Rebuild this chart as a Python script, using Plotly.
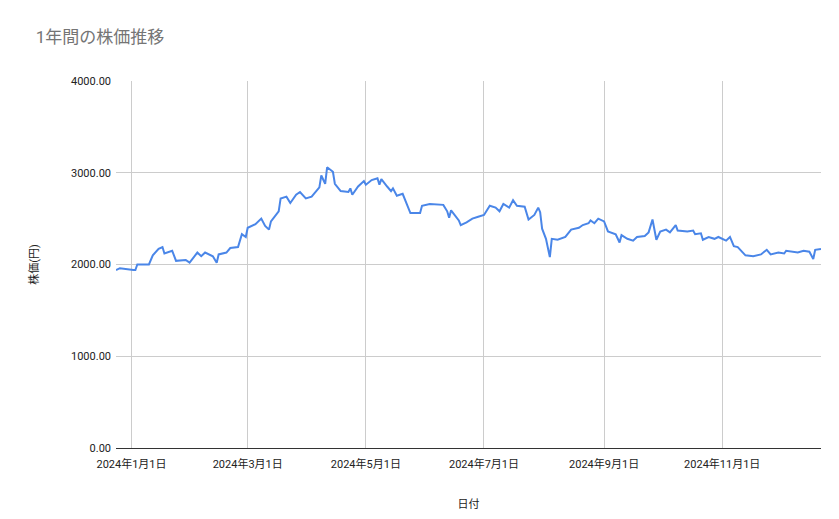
import plotly.graph_objects as go

dates = ["2023-12-24","2023-12-26","2024-01-02","2024-01-03","2024-01-04","2024-01-10","2024-01-12","2024-01-15","2024-01-17","2024-01-18",
         "2024-01-22","2024-01-24","2024-01-29","2024-01-31","2024-02-04","2024-02-06","2024-02-08","2024-02-12","2024-02-14","2024-02-15",
         "2024-02-19","2024-02-21","2024-02-25","2024-02-27","2024-02-29","2024-03-01","2024-03-05","2024-03-08","2024-03-10","2024-03-12",
         "2024-03-13","2024-03-17","2024-03-18","2024-03-21","2024-03-23","2024-03-26","2024-03-28","2024-03-31","2024-04-03","2024-04-07",
         "2024-04-08","2024-04-10","2024-04-11","2024-04-14","2024-04-15","2024-04-18","2024-04-22","2024-04-23","2024-04-24","2024-04-27",
         "2024-04-30","2024-05-01","2024-05-04","2024-05-07","2024-05-08","2024-05-09","2024-05-12","2024-05-14","2024-05-15","2024-05-17",
         "2024-05-20","2024-05-23","2024-05-24","2024-05-29","2024-05-30","2024-06-03","2024-06-08","2024-06-10","2024-06-12","2024-06-13",
         "2024-06-14","2024-06-18","2024-06-19","2024-06-22","2024-06-25","2024-06-27","2024-06-28","2024-07-01","2024-07-04","2024-07-07",
         "2024-07-09","2024-07-11","2024-07-14","2024-07-16","2024-07-18","2024-07-22","2024-07-24","2024-07-27","2024-07-29","2024-07-30",
         "2024-07-31","2024-08-02","2024-08-04","2024-08-05","2024-08-08","2024-08-12","2024-08-15","2024-08-19","2024-08-21","2024-08-24",
         "2024-08-25","2024-08-27","2024-08-29","2024-09-01","2024-09-03","2024-09-07","2024-09-09","2024-09-10","2024-09-13","2024-09-16",
         "2024-09-18","2024-09-22","2024-09-24","2024-09-26","2024-09-28","2024-09-30","2024-10-03","2024-10-05","2024-10-08","2024-10-09",
         "2024-10-14","2024-10-17","2024-10-18","2024-10-21","2024-10-22","2024-10-25","2024-10-28","2024-10-30","2024-11-01","2024-11-03",
         "2024-11-05","2024-11-07","2024-11-09","2024-11-13","2024-11-17","2024-11-21","2024-11-24","2024-11-26","2024-11-30","2024-12-03",
         "2024-12-04","2024-12-10","2024-12-13","2024-12-16","2024-12-18","2024-12-19","2024-12-22"]

prices = [1940,1960,1940,1940,2000,2000,2100,2170,2190,2120,
          2150,2040,2050,2020,2130,2090,2130,2090,2020,2110,
          2130,2180,2190,2330,2300,2400,2440,2500,2420,2380,
          2470,2580,2720,2740,2670,2760,2790,2720,2740,2840,
          2970,2880,3060,3010,2880,2800,2790,2830,2760,2850,
          2910,2870,2920,2940,2870,2930,2850,2800,2830,2750,
          2770,2600,2560,2560,2640,2660,2650,2650,2580,2510,
          2590,2480,2430,2460,2500,2510,2520,2540,2640,2620,
          2580,2660,2620,2700,2640,2630,2490,2540,2620,2570,
          2390,2280,2080,2280,2270,2300,2380,2400,2430,2450,
          2480,2450,2500,2470,2360,2330,2240,2320,2280,2260,
          2300,2310,2350,2490,2270,2360,2380,2350,2430,2370,
          2360,2370,2330,2340,2270,2300,2280,2300,2280,2260,
          2300,2200,2190,2100,2090,2110,2160,2110,2130,2120,
          2150,2130,2150,2140,2060,2160,2170]

tick_dates = ["2024-01-01","2024-03-01","2024-05-01","2024-07-01","2024-09-01","2024-11-01"]
tick_labels = ["2024年1月1日","2024年3月1日","2024年5月1日","2024年7月1日","2024年9月1日","2024年11月1日"]
y_ticks = [0, 1000, 2000, 3000, 4000]

fig = go.Figure()
fig.add_trace(go.Scatter(x=dates, y=prices, mode="lines",
                         line=dict(color="#4a86e8", width=2), hoverinfo="x+y"))

fig.update_layout(
    width=839, height=519,
    paper_bgcolor="white", plot_bgcolor="white",
    font=dict(family="Roboto, Noto Sans CJK JP", size=11, color="#222"),
    title=dict(text="1年間の株価推移", x=0.033, y=0.955, xanchor="left",
               font=dict(size=17, color="#757575", family="Roboto, Noto Sans CJK JP")),
    margin=dict(l=108, r=26, t=73, b=79, autoexpand=False),
    showlegend=False,
    xaxis=dict(range=["2023-12-24", "2024-12-22"], tickvals=tick_dates, ticktext=tick_labels,
               showgrid=True, gridcolor="#cccccc", showline=True, linecolor="#333",
               title=dict(text="日付", font=dict(size=11), standoff=30), ticks="",
               tickfont=dict(size=11), automargin=False, ticklabelstandoff=6),
    yaxis=dict(range=[0, 4000], tickvals=y_ticks, tickformat=".2f",
               gridcolor="#cccccc", zeroline=False, ticks="", automargin=False,
               title=dict(text="株価(円)", font=dict(size=11), standoff=30),
               tickfont=dict(size=11), ticklabelstandoff=4),
)

fig.write_html("out.html")
